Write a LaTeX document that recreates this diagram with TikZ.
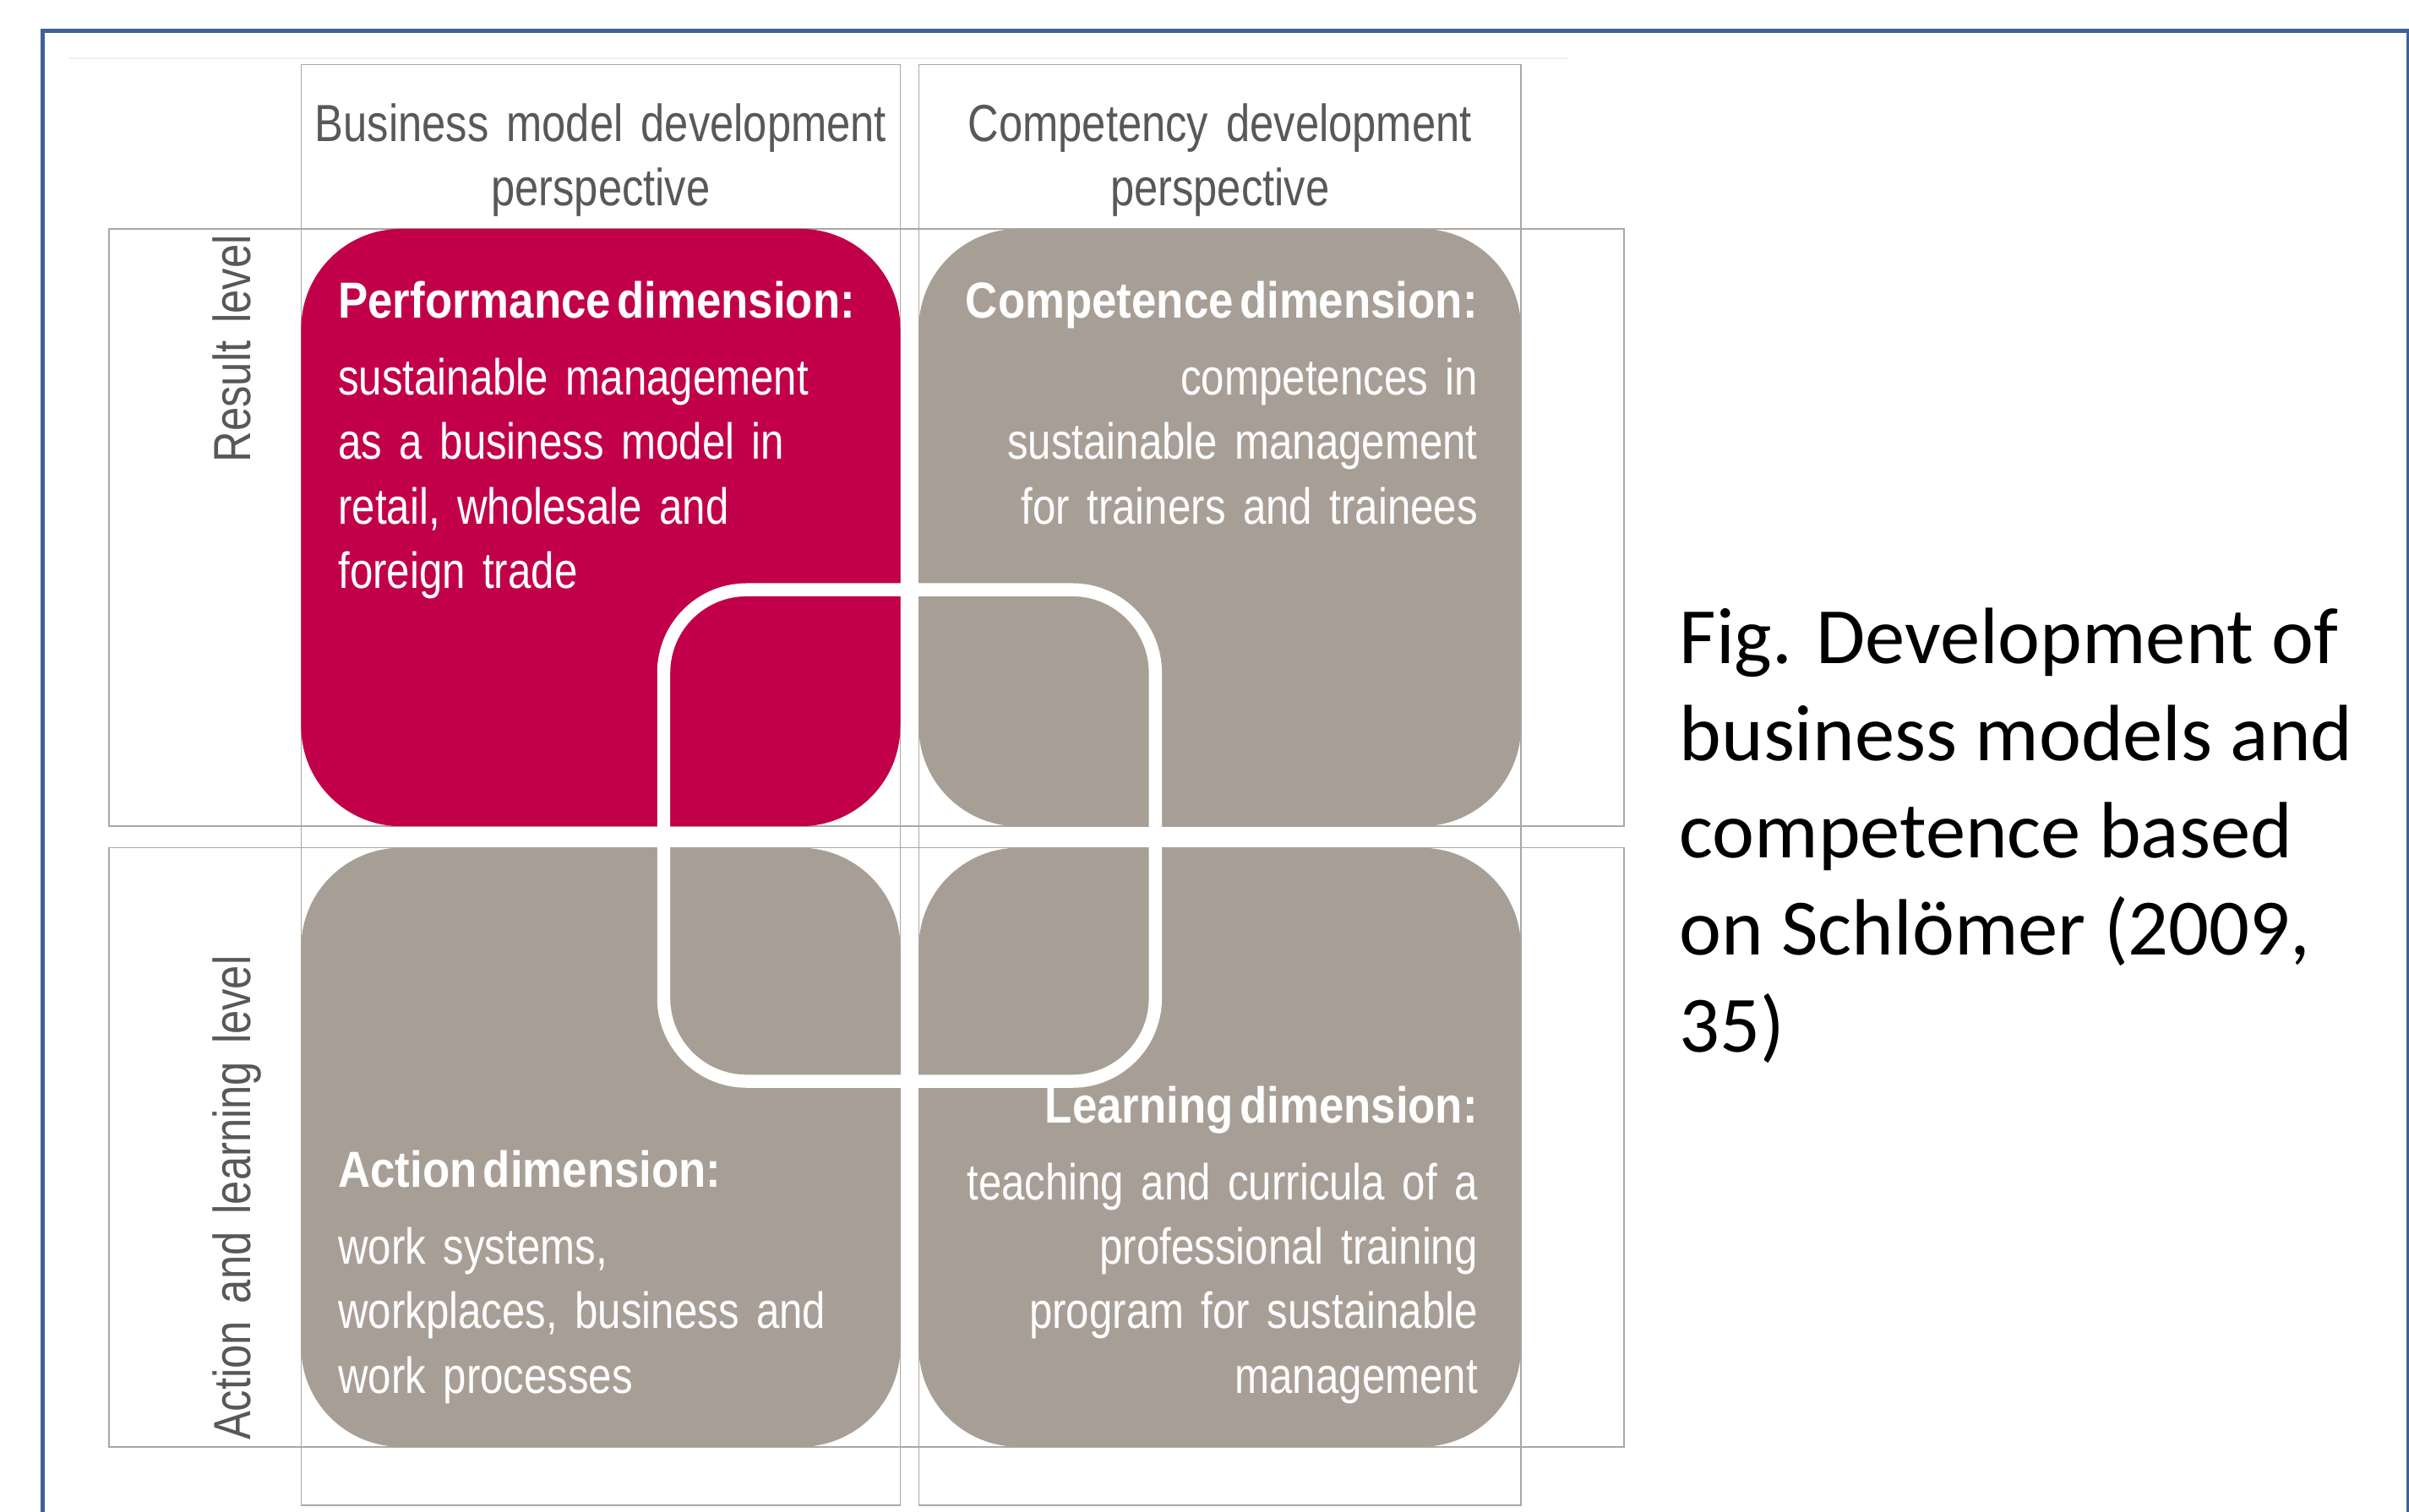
\documentclass[tikz,border=0pt]{standalone}
\usepackage{fontspec}
\setmainfont{Liberation Sans}
\newfontfamily\narrowfont[FakeStretch=0.82,WordSpace=1.5]{Liberation Sans}
\newfontfamily\titlefont[FakeStretch=0.88,WordSpace=0.5]{Liberation Sans}
\newfontfamily\capfont{Carlito}
\newcommand\dimtitle{\titlefont\bfseries}
\definecolor{crimson}{RGB}{193,0,73}
\definecolor{stone}{RGB}{167,159,150}
\definecolor{gridgray}{RGB}{172,167,162}
\definecolor{labelgray}{RGB}{88,88,88}
\definecolor{frameblue}{RGB}{62,98,148}

\begin{document}
\begin{tikzpicture}[x=1pt,y=-1pt,
    cell/.style={draw=gridgray,line width=0.9pt},
    head/.style={font=\narrowfont\fontsize{34}{42}\selectfont,text=labelgray,inner sep=0pt},
    body/.style={font=\narrowfont\fontsize{33}{42}\selectfont,text=white,inner sep=0pt}]
    \useasboundingbox (0,0) rectangle (1568,984);

    \draw[frameblue,line width=2.8pt] (28,1010) -- (28,20) -- (1568,20) -- (1568,1010);
    \draw[black!6,line width=1pt] (45,38) -- (1020,38);

    \draw[cell] (196,42) rectangle (586,980);
    \draw[cell] (598,42) rectangle (990,980);
    \draw[cell] (71,149) rectangle (1057,538);
    \draw[cell] (71,552) rectangle (1057,942);

    \fill[crimson,rounded corners=65pt] (196,149) rectangle (586,538);
    \fill[stone,rounded corners=65pt] (598,149) rectangle (990,538);
    \fill[stone,rounded corners=65pt] (196,552) rectangle (586,942);
    \fill[stone,rounded corners=65pt] (598,552) rectangle (990,942);

    \draw[white,line width=8.5pt,rounded corners=54pt] (432,384) rectangle (752,704);

    % base of a multi-line node = baseline of its last line
    \node[head,anchor=base,align=center] (bmhead) at (391,134) {Business model development\\perspective};
    \node[head,anchor=base,align=center] (cdhead) at (794,134) {Competency development\\perspective};
    \node[head,anchor=base,rotate=90] (resultlvl) at (163,227) {Result level};
    \node[head,anchor=base,rotate=90] (actionlvl) at (163,780) {Action and learning level};

    \node[body,anchor=base west,align=left] (perf) at (220,383)
        {{\dimtitle Performance dimension:}\\[8pt]sustainable management\\as a business model in\\retail, wholesale and\\foreign trade};
    \node[body,anchor=base east,align=right] (comp) at (962,341)
        {{\dimtitle Competence dimension:}\\[8pt]competences in\\sustainable management\\for trainers and trainees};
    \node[body,anchor=base west,align=left] (act) at (220,907)
        {{\dimtitle Action dimension:}\\[8pt]work systems,\\workplaces, business and\\work processes};
    \node[body,anchor=base east,align=right] (learn) at (962,907)
        {{\dimtitle Learning dimension:}\\[8pt]teaching and curricula of a\\professional training\\program for sustainable\\management};

    \node[font=\capfont\fontsize{52}{63.3}\selectfont,anchor=base west,align=left,inner sep=0pt] (caption) at (1093,685)
        {Fig. Development of\\business models and\\competence based\\on Schlömer (2009,\\35)};
\end{tikzpicture}
\end{document}
